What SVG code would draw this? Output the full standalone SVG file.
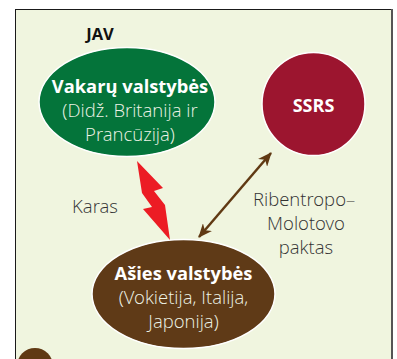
<svg xmlns="http://www.w3.org/2000/svg" width="397" height="359" viewBox="0 0 397 359">
  <style>
    .bold { font-family: "Open Sans", "Liberation Sans", sans-serif; font-weight: 700; fill: #ffffff; text-anchor: middle; }
    .sub { font-family: "Open Sans Light", "Open Sans", "Liberation Sans", sans-serif; font-weight: 300; fill: #eef3e6; text-anchor: middle; }
    .lbl { font-family: "Open Sans Light", "Open Sans", "Liberation Sans", sans-serif; font-weight: 300; fill: #333333; font-size: 18.5px; }
    .node { stroke: #ffffff; stroke-width: 1.5; }
  </style>
  <defs>
    <marker id="head" viewBox="0 0 14 12" refX="13" refY="6" markerWidth="14" markerHeight="12" markerUnits="userSpaceOnUse" orient="auto-start-reverse">
      <path d="M0,0 L14,6 L0,12 L4,6 Z" fill="#603913"/>
    </marker>
  </defs>
  <rect x="0" y="0" width="397" height="359" fill="#ffffff"/>
  <g id="panel">
    <rect x="15.5" y="9.5" width="376" height="360" fill="#f0f5df" stroke="#1a1a1a" stroke-width="1"/>
    <line x1="392" y1="9" x2="392" y2="359" stroke="#555555" stroke-width="2"/>
  </g>
  <g id="jav">
    <text x="100" y="40" font-family="Open Sans, Liberation Sans, sans-serif" font-weight="700" font-size="16.5" fill="#111111" text-anchor="middle">JAV</text>
  </g>
  <g id="vakaru">
    <ellipse class="node" cx="127" cy="102" rx="88" ry="54.5" fill="#04743a"/>
    <text class="bold" x="130" y="93" font-size="18.3">Vakarų valstybės</text>
    <text class="sub" x="130" y="117" font-size="18.5">(Didž. Britanija ir</text>
    <text class="sub" x="130" y="141" font-size="18.5">Prancūzija)</text>
  </g>
  <g id="ssrs">
    <circle class="node" cx="313.5" cy="104" r="51.5" fill="#9c152f"/>
    <text class="bold" x="313.5" y="111.5" font-size="18">SSRS</text>
  </g>
  <g id="asies">
    <ellipse class="node" cx="183.5" cy="294" rx="91.5" ry="54.5" fill="#5f3a17"/>
    <text class="bold" x="183.5" y="280" font-size="18.3">Ašies valstybės</text>
    <text class="sub" x="183.5" y="304" font-size="18.5">(Vokietija, Italija,</text>
    <text class="sub" x="183.5" y="328" font-size="18.5">Japonija)</text>
  </g>
  <g id="badge">
    <circle cx="35" cy="366" r="18" fill="#603913"/>
    <text x="35" y="374" font-family="Open Sans, Liberation Sans, sans-serif" font-weight="700" font-size="20" fill="#ffffff" text-anchor="middle">2</text>
  </g>
  <g id="connectors">
    <polygon points="137,161 163,188 154,191 165,205 170,240 143,209 152,207 142,193" fill="#ec1c24"/>
    <line x1="199" y1="237" x2="271" y2="153" stroke="#603913" stroke-width="2.5" marker-start="url(#head)" marker-end="url(#head)"/>
  </g>
  <g id="labels">
    <text class="lbl" x="95" y="213" text-anchor="middle">Karas</text>
    <text class="lbl" x="253" y="206">Ribentropo–</text>
    <text class="lbl" x="306" y="230" text-anchor="middle">Molotovo</text>
    <text class="lbl" x="306" y="254" text-anchor="middle">paktas</text>
  </g>
</svg>
